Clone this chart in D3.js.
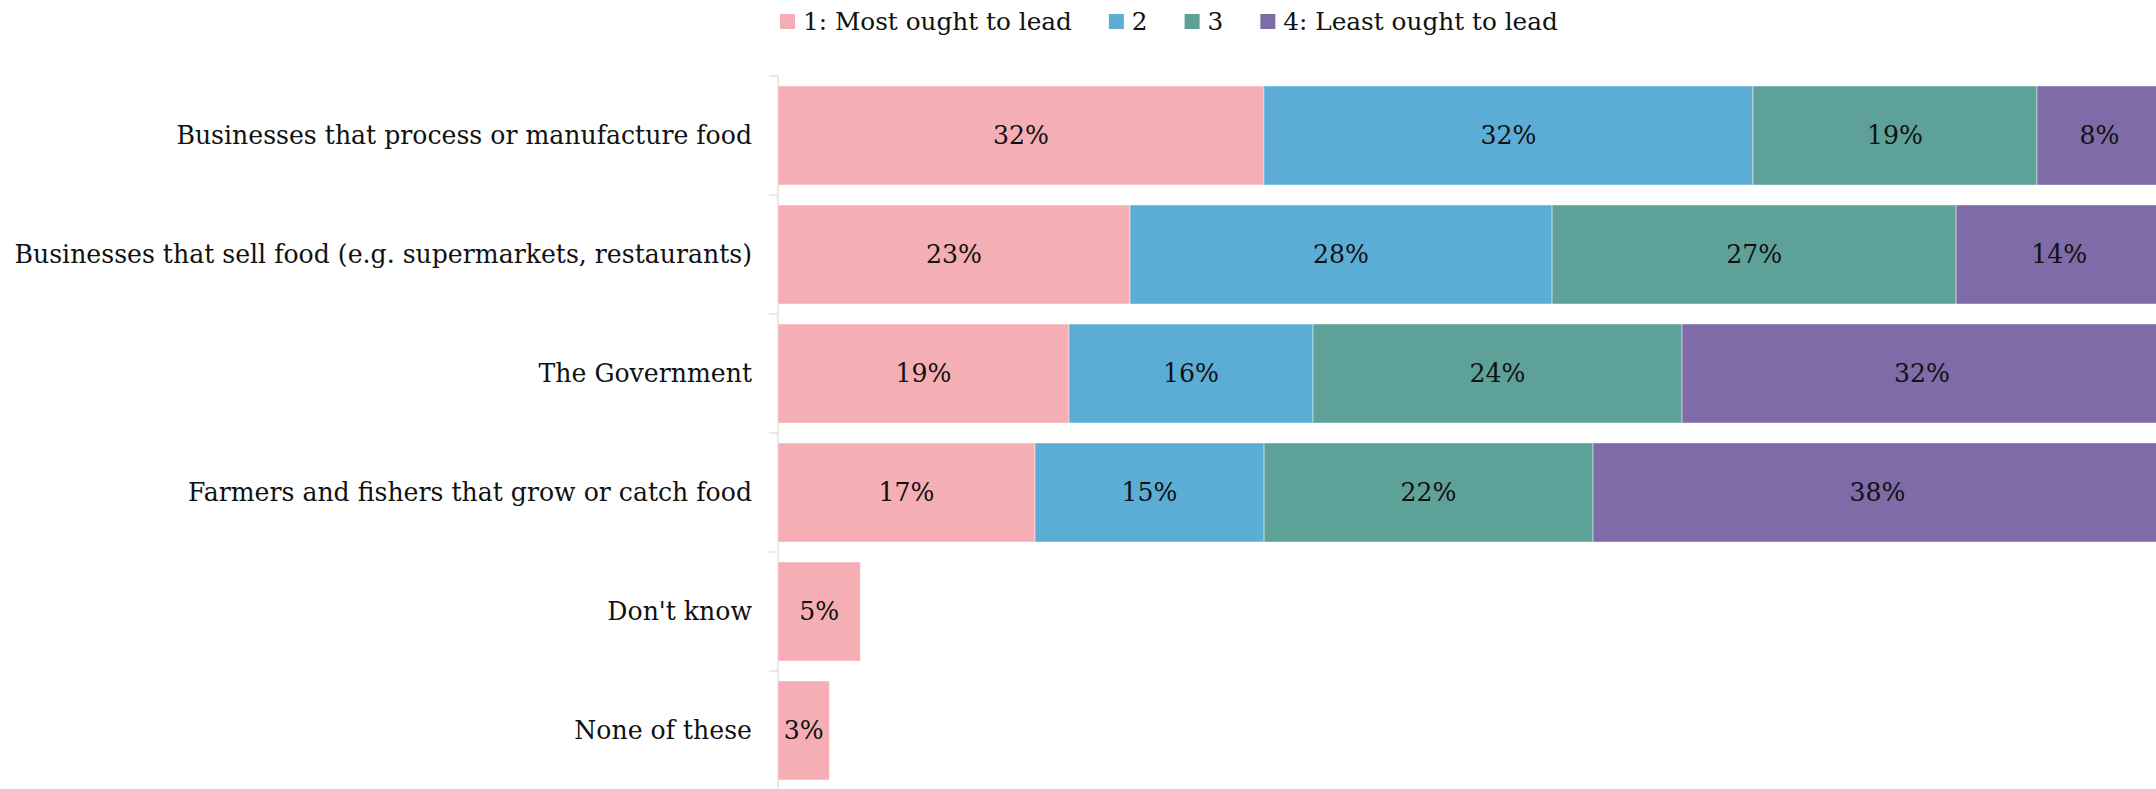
<!DOCTYPE html>
<html>
<head>
<meta charset="utf-8">
<script src="https://cdn.jsdelivr.net/npm/d3@7"></script>
<style>
  html, body { margin: 0; padding: 0; background: #fff; overflow: hidden; }
  svg { display: block; }
</style>
</head>
<body>
<svg id="chart" width="2156" height="789"></svg>
<script>
// ---- Data ----
const categories = [
  "Businesses that process or manufacture food",
  "Businesses that sell food (e.g. supermarkets, restaurants)",
  "The Government",
  "Farmers and fishers that grow or catch food",
  "Don't know",
  "None of these"
];
const seriesNames = ["1: Most ought to lead", "2", "3", "4: Least ought to lead"];
const mostValues  = [32.16, 23.30, 19.26, 17.01, 5.45, 3.40];
const secondValues = [32.36, 27.93, 16.15, 15.16, 0, 0];
const thirdValues = [18.80, 26.74, 24.42, 21.77, 0, 0];
const leastValues = [8.27, 13.63, 31.77, 37.66, 0, 0];
const seriesColors = ["#F4AEB4", "#5BADD5", "#5DA199", "#7E6BA7"];

// ---- Layout ----
const W = 2156, H = 789;
const x0 = 778;
const fontFamily = "Georgia, 'DejaVu Serif', serif";

const svg = d3.select("#chart");

// fit font sizes to the reference text widths
function fitSize(str, base, target) {
  const t = svg.append("text").attr("font-family", fontFamily).attr("font-size", base).text(str);
  const w = t.node().getComputedTextLength();
  t.remove();
  return base * target / w;
}
const labelSize = fitSize(categories[1], 24, 738);
const legendSize = fitSize(seriesNames[0], 22, 269);

const rows = categories.map((c, i) => ({
  category: c,
  s0: mostValues[i], s1: secondValues[i], s2: thirdValues[i], s3: leastValues[i]
}));
const keys = ["s0", "s1", "s2", "s3"];
const stacked = d3.stack().keys(keys)(rows);

const x = d3.scaleLinear().domain([0, 100]).range([x0, x0 + 1511]);
const pad = 0.168;
const y = d3.scaleBand().domain(categories).range([76, 790])
  .paddingInner(pad).paddingOuter(pad / 2);

// Axis line + boundary ticks
const axisG = svg.append("g").attr("class", "y-axis");
axisG.append("line")
  .attr("x1", x0).attr("x2", x0).attr("y1", 76).attr("y2", H)
  .attr("stroke", "#e3e3e3").attr("stroke-width", 1.5);
const boundaries = categories.map(c => y(c) - y.step() * pad / 2);
axisG.selectAll("line.tick").data(boundaries).join("line")
  .attr("class", "tick")
  .attr("x1", x0 - 9).attr("x2", x0)
  .attr("y1", d => d).attr("y2", d => d)
  .attr("stroke", "#e3e3e3").attr("stroke-width", 1.5);

// Category labels via D3 axis
const labelAxis = d3.axisLeft(y).tickSize(0).tickPadding(26);
const lab = svg.append("g").attr("transform", `translate(${x0},0)`).call(labelAxis);
lab.select(".domain").remove();
lab.selectAll("text")
  .attr("font-family", fontFamily).attr("font-size", labelSize).attr("fill", "#111");

// Bars
const barG = svg.append("g");
stacked.forEach((layer, si) => {
  const g = barG.append("g").attr("fill", seriesColors[si]);
  layer.forEach((d, ri) => {
    if (d[1] - d[0] <= 0) return;
    g.append("rect")
      .attr("x", x(d[0]))
      .attr("y", y(categories[ri]))
      .attr("width", x(d[1]) - x(d[0]))
      .attr("height", y.bandwidth())
      .attr("stroke", "#ffffff").attr("stroke-opacity", 0.45).attr("stroke-width", 1);
  });
});

// Value labels
const labG = svg.append("g");
stacked.forEach((layer, si) => {
  layer.forEach((d, ri) => {
    const v = d[1] - d[0];
    if (v <= 0) return;
    labG.append("text")
      .attr("x", (x(d[0]) + x(d[1])) / 2)
      .attr("y", y(categories[ri]) + y.bandwidth() / 2)
      .attr("dy", "0.35em")
      .attr("text-anchor", "middle")
      .attr("font-family", fontFamily).attr("font-size", labelSize).attr("fill", "#111")
      .text(Math.round(v) + "%");
  });
});

// Legend
const legend = svg.append("g");
let lx = 780;
seriesNames.forEach((name, i) => {
  const it = legend.append("g").attr("transform", `translate(${lx},0)`);
  it.append("rect").attr("x", 0).attr("y", 14).attr("width", 15).attr("height", 15)
    .attr("fill", seriesColors[i]);
  const t = it.append("text").attr("x", 23).attr("y", 30)
    .attr("font-family", fontFamily).attr("font-size", legendSize).attr("fill", "#111")
    .text(name);
  lx += 23 + t.node().getComputedTextLength() + 37;
});
</script>
</body>
</html>
